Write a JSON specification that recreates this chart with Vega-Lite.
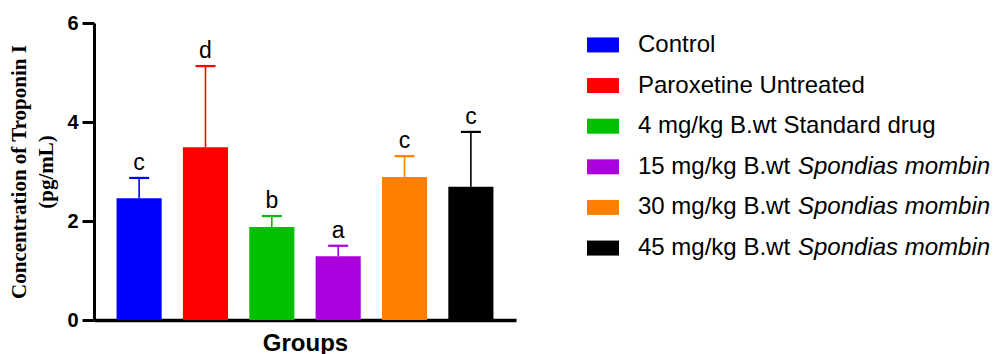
{
  "$schema": "https://vega.github.io/schema/vega-lite/v6.json",
  "padding": {"left": 8, "top": 13, "right": 0, "bottom": 0},
  "spacing": 59,
  "config": {
    "view": {"stroke": null},
    "font": "Liberation Sans",
    "axisY": {"labelFont": "Liberation Sans", "labelFontSize": 20, "labelFontWeight": "bold", "labelColor": "black"}
  },
  "resolve": {"scale": {"color": "shared"}},
  "datasets": {
    "groups": [
      {"group": "Control", "order": 1, "mean": 2.46, "upper": 2.87, "letter": "c", "part1": "Control", "part2": ""},
      {"group": "Paroxetine Untreated", "order": 2, "mean": 3.49, "upper": 5.13, "letter": "d", "part1": "Paroxetine Untreated", "part2": ""},
      {"group": "4 mg/kg B.wt Standard drug", "order": 3, "mean": 1.88, "upper": 2.10, "letter": "b", "part1": "4 mg/kg B.wt Standard drug", "part2": ""},
      {"group": "15 mg/kg B.wt Spondias mombin", "order": 4, "mean": 1.29, "upper": 1.50, "letter": "a", "part1": "15 mg/kg B.wt", "part2": "Spondias mombin"},
      {"group": "30 mg/kg B.wt Spondias mombin", "order": 5, "mean": 2.89, "upper": 3.31, "letter": "c", "part1": "30 mg/kg B.wt", "part2": "Spondias mombin"},
      {"group": "45 mg/kg B.wt Spondias mombin", "order": 6, "mean": 2.69, "upper": 3.80, "letter": "c", "part1": "45 mg/kg B.wt", "part2": "Spondias mombin"}
    ]
  },
  "hconcat": [
    {
      "width": 422,
      "height": 297,
      "data": {"name": "groups"},
      "encoding": {
        "x": {
          "field": "group", "type": "nominal", "sort": {"field": "order"},
          "scale": {"paddingInner": 0.32, "paddingOuter": 0.34},
          "axis": {
            "title": "Groups", "labels": false, "ticks": false,
            "domainColor": "black", "domainWidth": 3.5,
            "titleFont": "Liberation Sans", "titleFontSize": 24, "titleFontWeight": "bold",
            "titleColor": "black", "titlePadding": 11
          }
        },
        "color": {
          "field": "group", "type": "nominal", "sort": {"field": "order"},
          "scale": {
            "domain": ["Control", "Paroxetine Untreated", "4 mg/kg B.wt Standard drug", "15 mg/kg B.wt Spondias mombin", "30 mg/kg B.wt Spondias mombin", "45 mg/kg B.wt Spondias mombin"],
            "range": ["#0000FF", "#FF0000", "#00C000", "#AA00DD", "#FF8000", "#000000"]
          },
          "legend": null
        }
      },
      "layer": [
        {
          "mark": {"type": "bar", "opacity": 1},
          "encoding": {
            "y": {
              "field": "mean", "type": "quantitative",
              "scale": {"domain": [0, 6], "nice": false},
              "axis": {
                "values": [0, 2, 4, 6], "grid": false, "format": "d",
                "domainColor": "black", "domainWidth": 3,
                "tickColor": "black", "tickWidth": 3, "tickSize": 12,
                "labelFont": "Liberation Sans", "labelFontSize": 20, "labelFontWeight": "bold",
                "labelColor": "black", "labelPadding": 4,
                "title": ["Concentration of Troponin I", "(pg/mL)"],
                "titleFont": "Liberation Serif", "titleFontSize": 21, "titleFontWeight": "bold",
                "titleColor": "black", "titlePadding": 10, "titleLineHeight": 27
              }
            }
          }
        },
        {
          "mark": {"type": "rule", "strokeWidth": 1.6, "opacity": 1},
          "encoding": {
            "y": {"field": "mean", "type": "quantitative"},
            "y2": {"field": "upper"}
          }
        },
        {
          "mark": {"type": "tick", "size": 20, "thickness": 2.2, "opacity": 1},
          "encoding": {
            "y": {"field": "upper", "type": "quantitative"}
          }
        },
        {
          "mark": {"type": "text", "fontSize": 23, "dy": -8, "baseline": "alphabetic", "color": "black", "font": "Liberation Sans"},
          "encoding": {
            "y": {"field": "upper", "type": "quantitative"},
            "text": {"field": "letter"},
            "color": {"value": "black"}
          }
        }
      ]
    },
    {
      "width": 420,
      "height": 247,
      "data": {"name": "groups"},
      "encoding": {
        "y": {
          "field": "group", "type": "nominal", "sort": {"field": "order"},
          "scale": {"type": "band", "paddingInner": 0, "paddingOuter": 0.04},
          "axis": null
        }
      },
      "layer": [
        {
          "mark": {"type": "tick", "thickness": 32, "size": 15, "orient": "vertical", "opacity": 1},
          "encoding": {
            "x": {"datum": 28, "type": "quantitative", "scale": {"domain": [0, 420], "nice": false, "zero": false}, "axis": null},
            "color": {"field": "group", "type": "nominal", "legend": null}
          }
        },
        {
          "mark": {"type": "text", "align": "left", "baseline": "middle", "fontSize": 24, "font": "Liberation Sans", "color": "black"},
          "encoding": {
            "x": {"datum": 63, "type": "quantitative"},
            "text": {"field": "part1"}
          }
        },
        {
          "mark": {"type": "text", "align": "left", "baseline": "middle", "fontSize": 24, "font": "Liberation Sans", "fontStyle": "italic", "color": "black"},
          "encoding": {
            "x": {"datum": 223, "type": "quantitative"},
            "text": {"field": "part2"}
          }
        }
      ]
    }
  ]
}
